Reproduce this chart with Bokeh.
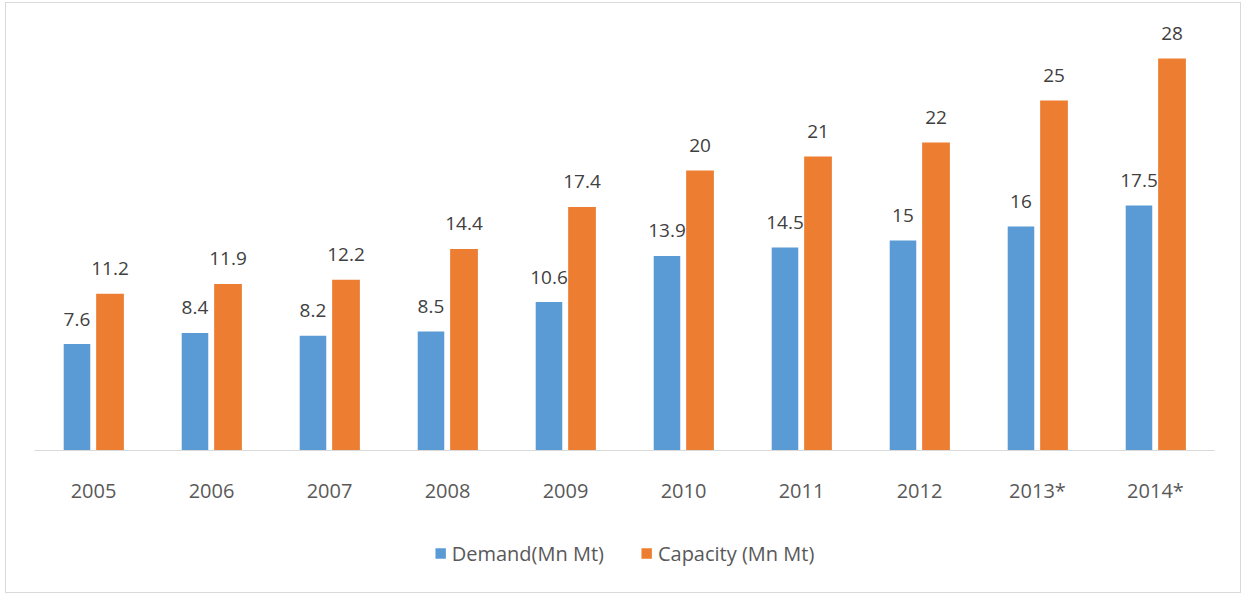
from bokeh.plotting import figure
from bokeh.layouts import column
from bokeh.models import ColumnDataSource, FactorRange, Legend, LegendItem, Range1d
from bokeh.transform import dodge
from bokeh.core.properties import value
from bokeh.embed import file_html
from bokeh.resources import INLINE

years = ["2005", "2006", "2007", "2008", "2009", "2010", "2011", "2012", "2013*", "2014*"]
demand = [7.6, 8.4, 8.2, 8.5, 10.6, 13.9, 14.5, 15, 16, 17.5]
capacity = [11.2, 11.9, 12.2, 14.4, 17.4, 20, 21, 22, 25, 28]
demand_labels = ["7.6", "8.4", "8.2", "8.5", "10.6", "13.9", "14.5", "15", "16", "17.5"]
capacity_labels = ["11.2", "11.9", "12.2", "14.4", "17.4", "20", "21", "22", "25", "28"]
series_names = ["Demand(Mn Mt)", "Capacity (Mn Mt)"]

src = ColumnDataSource(dict(years=years, demand=demand, capacity=capacity,
                            dl=demand_labels, cl=capacity_labels))

FONT = "Open Sans"
BLUE = "#5B9BD5"
ORANGE = "#ED7D31"

p = figure(x_range=FactorRange(factors=years, range_padding=0),
           y_range=Range1d(0, 31),
           width=1234, height=510,
           output_backend="svg", toolbar_location=None,
           min_border_left=28, min_border_right=26,
           min_border_top=13, min_border_bottom=63)
p.outline_line_color = None
p.background_fill_color = "white"
p.border_fill_color = "white"
p.xgrid.grid_line_color = None
p.ygrid.grid_line_color = None
p.yaxis.visible = False

p.vbar(x=dodge("years", -0.14, range=p.x_range), top="demand", width=0.225,
       source=src, fill_color=BLUE, line_color=None)
p.vbar(x=dodge("years", 0.14, range=p.x_range), top="capacity", width=0.235,
       source=src, fill_color=ORANGE, line_color=None)

p.text(x=dodge("years", -0.14, range=p.x_range), y="demand", text="dl", source=src,
       text_font=value(FONT), text_font_size="19px", text_color="#404040",
       text_align="center", text_baseline="middle", y_offset=-25)
p.text(x=dodge("years", 0.14, range=p.x_range), y="capacity", text="cl", source=src,
       text_font=value(FONT), text_font_size="19px", text_color="#404040",
       text_align="center", text_baseline="middle", y_offset=-25)

ax = p.xaxis[0]
ax.axis_line_color = "#d9d9d9"
ax.axis_line_width = 1
ax.major_tick_line_color = None
ax.minor_tick_line_color = None
ax.major_label_text_font = FONT
ax.major_label_text_font_size = "20px"
ax.major_label_text_color = "#595959"
ax.major_label_standoff = 20

# legend strip (bars drawn out of view; only the legend shows)
p2 = figure(x_range=FactorRange(factors=years), y_range=Range1d(100, 101),
            width=1234, height=79, output_backend="svg", toolbar_location=None,
            x_axis_type=None, y_axis_type=None,
            min_border_left=0, min_border_right=0, min_border_top=0, min_border_bottom=0)
p2.outline_line_color = None
p2.xgrid.grid_line_color = None
p2.ygrid.grid_line_color = None
l1 = p2.vbar(x="years", top="demand", width=0.2, source=src, fill_color=BLUE, line_color=None)
l2 = p2.vbar(x="years", top="capacity", width=0.2, source=src, fill_color=ORANGE, line_color=None)

legend = Legend(items=[LegendItem(label=series_names[0], renderers=[l1]),
                       LegendItem(label=series_names[1], renderers=[l2])],
                orientation="horizontal", location="center",
                border_line_color=None, background_fill_alpha=0,
                padding=0, margin=0, spacing=36, label_standoff=5,
                glyph_width=13, glyph_height=13,
                label_text_font=FONT, label_text_font_size="20px",
                label_text_color="#595959")
p2.add_layout(legend, "center")

layout = column(p, p2, spacing=0,
                styles={"margin-left": "6px", "margin-top": "3px",
                        "outline": "1px solid #d9d9d9"})

open("out.html", "w").write(file_html(layout, INLINE))
